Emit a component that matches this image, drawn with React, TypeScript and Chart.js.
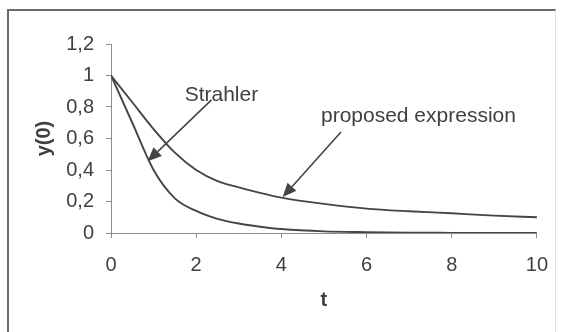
import React, { useEffect, useRef } from "react";
import { Chart, registerables } from "chart.js";

Chart.register(...registerables);

// ---- data ----
const tValues = [0, 0.5, 1, 1.5, 2, 2.5, 3, 3.5, 4, 5, 6, 7, 8, 9, 10];
const proposedValues = [1, 0.83, 0.66, 0.51, 0.4, 0.33, 0.29, 0.255, 0.225, 0.185, 0.155, 0.138, 0.125, 0.11, 0.1];
const strahlerValues = [1, 0.7, 0.4, 0.22, 0.14, 0.09, 0.06, 0.04, 0.025, 0.01, 0.005, 0.002, 0.001, 0, 0];
const xTickValues = [0, 2, 4, 6, 8, 10];
const yTickValues = [0, 0.2, 0.4, 0.6, 0.8, 1, 1.2];
const xTitle = "t";
const yTitle = "y(0)";
// annotation labels with arrows, in data coordinates [t, y]
const annotationLabels = ["Strahler", "proposed expression"];
const annotationTextAt = [[1.73, 0.875], [4.93, 0.74]];
const annotationFrom = [[2.36, 0.845], [5.4, 0.641]];
const annotationTo = [[0.86, 0.455], [4.03, 0.228]];

const FONT = '"Liberation Sans", Arial, sans-serif';
const TEXT = "#404040";
const LINE = "#454545";
const AXIS = "#8c8c8c";

const fmt = (v: number) => String(parseFloat(Number(v).toFixed(1))).replace(".", ",");

const arrowPlugin = {
  id: "arrowLabels",
  afterDatasetsDraw(chart: any) {
    const { ctx, scales } = chart;
    const xs = scales.x;
    const ys = scales.y;
    ctx.save();
    annotationLabels.forEach((label, i) => {
      const x1 = xs.getPixelForValue(annotationFrom[i][0]);
      const y1 = ys.getPixelForValue(annotationFrom[i][1]);
      const x2 = xs.getPixelForValue(annotationTo[i][0]);
      const y2 = ys.getPixelForValue(annotationTo[i][1]);
      const ang = Math.atan2(y2 - y1, x2 - x1);
      const len = 14;
      const half = 6;
      const bx = x2 - len * Math.cos(ang);
      const by = y2 - len * Math.sin(ang);
      ctx.strokeStyle = LINE;
      ctx.lineWidth = 1.6;
      ctx.beginPath();
      ctx.moveTo(x1, y1);
      ctx.lineTo(bx, by);
      ctx.stroke();
      ctx.fillStyle = LINE;
      ctx.beginPath();
      ctx.moveTo(x2, y2);
      ctx.lineTo(bx + half * Math.sin(ang), by - half * Math.cos(ang));
      ctx.lineTo(bx - half * Math.sin(ang), by + half * Math.cos(ang));
      ctx.closePath();
      ctx.fill();
      ctx.font = `21px ${FONT}`;
      ctx.fillStyle = TEXT;
      ctx.textAlign = "left";
      ctx.textBaseline = "middle";
      ctx.fillText(
        label,
        xs.getPixelForValue(annotationTextAt[i][0]),
        ys.getPixelForValue(annotationTextAt[i][1])
      );
    });
    ctx.restore();
  },
};

export default function App() {
  const ref = useRef<HTMLCanvasElement | null>(null);

  useEffect(() => {
    if (!ref.current) return;
    Chart.defaults.font.family = FONT;
    const chart = new Chart(ref.current, {
      type: "line",
      data: {
        datasets: [
          {
            label: "proposed expression",
            data: tValues.map((t, i) => ({ x: t, y: proposedValues[i] })),
            borderColor: LINE,
            borderWidth: 1.9,
            pointRadius: 0,
            cubicInterpolationMode: "monotone",
            fill: false,
          },
          {
            label: "Strahler",
            data: tValues.map((t, i) => ({ x: t, y: strahlerValues[i] })),
            borderColor: LINE,
            borderWidth: 1.9,
            pointRadius: 0,
            cubicInterpolationMode: "monotone",
            fill: false,
          },
        ],
      },
      options: {
        animation: false,
        responsive: false,
        maintainAspectRatio: false,
        layout: { padding: { left: 0, right: 24, top: 44, bottom: 0 } },
        plugins: { legend: { display: false }, tooltip: { enabled: false } },
        scales: {
          x: {
            type: "linear",
            min: 0,
            max: 10,
            afterBuildTicks: (s: any) => {
              s.ticks = xTickValues.map((v) => ({ value: v }));
            },
            afterFit: (s: any) => {
              s.height = 99;
            },
            grid: { drawOnChartArea: false, drawTicks: true, tickLength: 5, color: AXIS, lineWidth: 1 },
            border: { display: true, color: AXIS, width: 1 },
            ticks: { padding: 15, color: TEXT, font: { size: 20, family: FONT }, maxRotation: 0, callback: (v: any) => fmt(v) },
            title: {
              display: true,
              text: xTitle,
              color: TEXT,
              font: { size: 20, weight: "bold", family: FONT },
              padding: { top: 0, bottom: 20 },
            },
          },
          y: {
            type: "linear",
            min: 0,
            max: 1.2,
            afterBuildTicks: (s: any) => {
              s.ticks = yTickValues.map((v) => ({ value: v }));
            },
            afterFit: (s: any) => {
              s.width = 111;
            },
            grid: { drawOnChartArea: false, drawTicks: true, tickLength: 5, color: AXIS, lineWidth: 1 },
            border: { display: true, color: AXIS, width: 1 },
            ticks: { padding: 12, color: TEXT, font: { size: 20, family: FONT }, callback: (v: any) => fmt(v) },
            title: {
              display: true,
              text: yTitle,
              color: TEXT,
              font: { size: 20, weight: "bold", family: FONT },
              padding: { top: 32, bottom: 0 },
            },
          },
        },
      } as any,
      plugins: [arrowPlugin],
    });
    return () => chart.destroy();
  }, []);

  return (
    <div style={{ position: "absolute", left: 0, top: 0, width: 563, height: 332, background: "#fff" }}>
      <div
        style={{
          position: "absolute",
          left: 7,
          top: 9,
          width: 546,
          height: 330,
          borderTop: "2px solid #6a6a6a",
          borderLeft: "2px solid #6a6a6a",
          borderRight: "1px solid #e2e2e2",
        }}
      />
      <canvas ref={ref} width={563} height={332} style={{ position: "absolute", left: 0, top: 0 }} />
    </div>
  );
}
